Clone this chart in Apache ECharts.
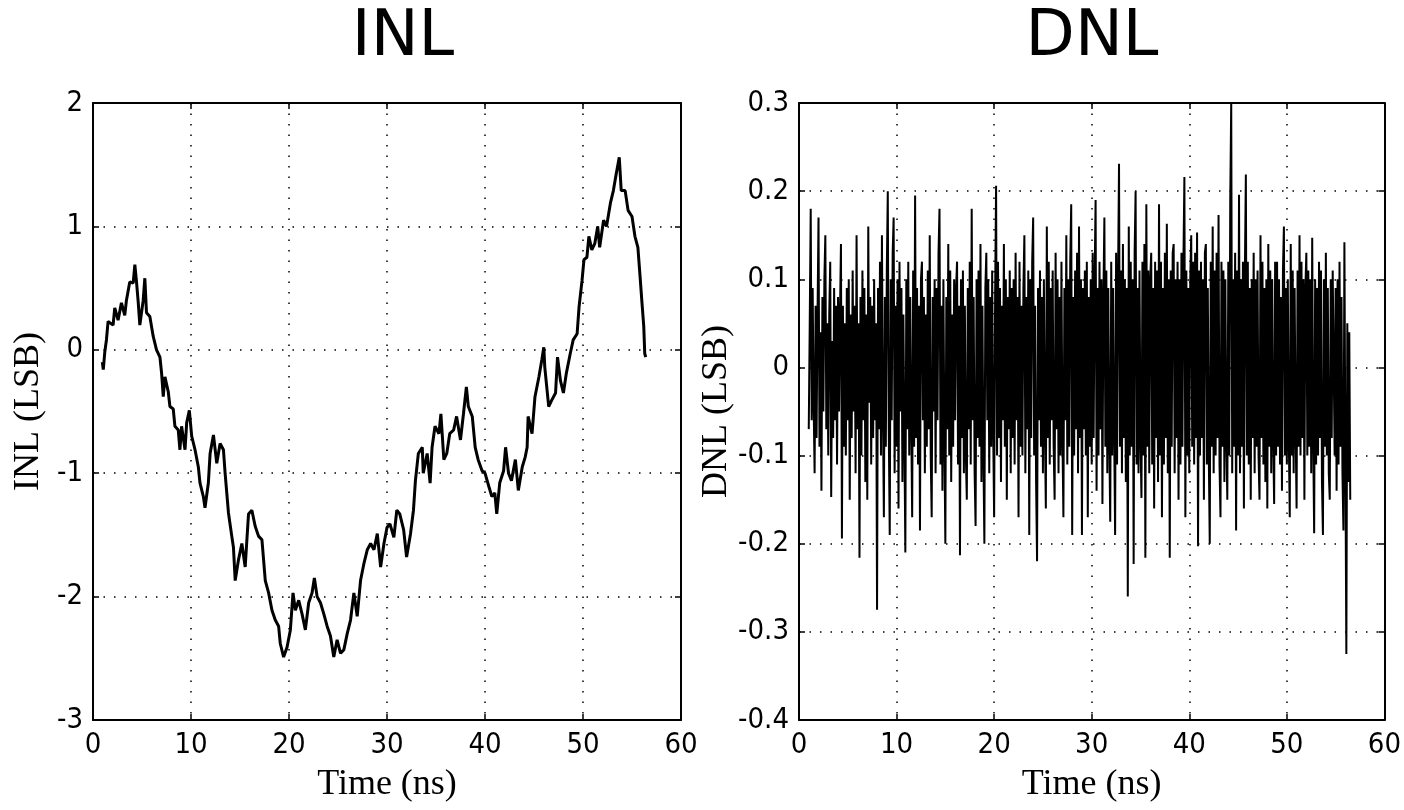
<!DOCTYPE html>
<html><head><meta charset="utf-8">
<script src="https://cdn.jsdelivr.net/npm/echarts@6/dist/echarts.min.js"></script>
<style>html,body{margin:0;padding:0;background:#fff}#c{width:1404px;height:810px}</style>
</head><body><div id="c"></div>
<script>
// ---- data ----
const X_TICKS = [0, 10, 20, 30, 40, 50, 60];
const INL_TICKS = [-3, -2, -1, 0, 1, 2];
const DNL_TICKS = [-0.4, -0.3, -0.2, -0.1, 0, 0.1, 0.2, 0.3];

const INL_X = [0.95,1.05,1.2,1.37,1.54,2.05,2.22,2.56,2.90,3.24,3.41,3.75,4.10,4.27,4.44,4.61,4.78,5.12,5.29,5.46,5.80,6.14,6.48,6.83,7.0,7.17,7.34,7.68,7.85,8.19,8.36,8.70,8.87,9.04,9.39,9.56,9.83,10.07,10.41,10.75,10.92,11.26,11.43,11.77,11.95,12.29,12.63,12.97,13.31,13.48,13.82,14.16,14.33,14.51,14.85,15.19,15.53,15.87,16.21,16.55,16.89,17.24,17.58,17.92,18.26,18.60,18.94,19.11,19.45,19.80,20.14,20.41,20.65,20.99,21.33,21.67,22.01,22.35,22.59,22.87,23.21,23.55,23.89,24.23,24.57,24.91,25.26,25.60,25.94,26.28,26.62,26.96,27.30,27.65,27.99,28.33,28.67,29.01,29.35,29.69,30.0,30.3,30.7,31.0,31.3,31.7,32.0,32.4,32.7,32.9,33.2,33.6,33.7,34.1,34.4,34.6,34.9,35.3,35.5,35.8,36.1,36.4,36.8,37.1,37.5,37.8,38.1,38.3,38.7,39.0,39.3,39.7,40.0,40.4,40.7,41.0,41.2,41.5,41.9,42.1,42.4,42.7,43.1,43.4,43.8,44.1,44.3,44.4,44.8,45.1,45.5,45.8,46.0,46.1,46.5,46.8,47.2,47.4,47.7,48.0,48.3,48.7,49.0,49.4,49.6,49.9,50.1,50.4,50.6,50.9,51.2,51.5,51.7,52.1,52.4,52.8,53.1,53.4,53.7,53.9,54.3,54.6,55.0,55.3,55.6,55.8,56.0,56.2,56.3,56.4];
const INL_Y = [-0.10,-0.16,-0.02,0.08,0.23,0.20,0.34,0.24,0.38,0.28,0.40,0.55,0.54,0.69,0.55,0.39,0.20,0.40,0.58,0.30,0.27,0.11,0.0,-0.06,-0.19,-0.38,-0.22,-0.34,-0.46,-0.48,-0.62,-0.65,-0.81,-0.62,-0.81,-0.59,-0.49,-0.70,-0.81,-0.95,-1.08,-1.19,-1.28,-1.08,-0.84,-0.69,-0.92,-0.76,-0.81,-1.0,-1.32,-1.51,-1.60,-1.87,-1.70,-1.57,-1.76,-1.33,-1.30,-1.43,-1.51,-1.54,-1.87,-1.97,-2.11,-2.19,-2.24,-2.38,-2.49,-2.41,-2.27,-1.97,-2.11,-2.03,-2.14,-2.27,-2.05,-1.97,-1.85,-2.0,-2.05,-2.14,-2.24,-2.32,-2.49,-2.35,-2.46,-2.43,-2.30,-2.19,-1.97,-2.16,-1.87,-1.73,-1.62,-1.57,-1.62,-1.49,-1.76,-1.57,-1.44,-1.41,-1.52,-1.30,-1.33,-1.46,-1.68,-1.49,-1.30,-1.06,-0.84,-0.79,-1.0,-0.84,-1.08,-0.79,-0.62,-0.68,-0.52,-0.89,-0.84,-0.68,-0.65,-0.54,-0.73,-0.52,-0.30,-0.46,-0.54,-0.79,-0.89,-0.98,-1.0,-1.11,-1.19,-1.16,-1.33,-1.08,-0.98,-0.79,-1.0,-1.06,-0.89,-1.14,-0.95,-0.87,-0.79,-0.54,-0.68,-0.38,-0.22,-0.08,0.02,-0.14,-0.46,-0.41,-0.35,-0.06,-0.25,-0.35,-0.19,-0.03,0.08,0.13,0.35,0.56,0.73,0.75,0.92,0.81,0.86,1.0,0.83,1.05,1.0,1.19,1.29,1.43,1.56,1.29,1.29,1.13,1.08,0.92,0.83,0.62,0.40,0.19,-0.03,-0.06];

const DNL_START = 1.0;   // first sample time (ns)
const DNL_STEP = 0.1;    // sample spacing (ns)
const DNL_Y = [
-0.07,0.05,0.18,-0.06,0.09,-0.04,-0.12,0.07,-0.08,0.06,
0.17,-0.09,0.04,-0.14,0.08,-0.05,0.1,0.15,-0.07,0.05,
-0.1,0.06,0.12,-0.147,0.03,-0.08,0.09,-0.06,0.07,-0.11,
0.08,-0.05,0.06,0.14,-0.194,0.07,-0.09,0.05,-0.1,0.09,
-0.06,0.1,-0.15,0.06,-0.08,0.11,-0.05,0.07,-0.12,0.15,
-0.07,0.05,-0.216,0.08,-0.1,0.11,-0.06,0.09,-0.13,0.06,
-0.15,0.16,-0.04,0.08,-0.11,0.07,-0.08,0.1,-0.06,0.05,
-0.275,0.09,-0.07,0.12,-0.1,0.15,-0.05,-0.17,0.08,-0.09,
0.11,0.2,-0.07,-0.19,0.1,-0.06,0.13,0.17,-0.12,0.07,
-0.09,0.1,-0.16,0.12,-0.05,0.09,-0.13,0.06,-0.08,-0.21,
0.1,-0.07,0.12,-0.1,0.08,-0.06,-0.17,0.11,-0.09,0.195,
-0.08,0.09,-0.11,0.07,-0.185,0.1,0.12,-0.06,0.08,-0.12,
0.06,-0.09,0.11,-0.07,0.15,-0.1,-0.17,0.08,-0.05,0.1,
-0.12,0.09,-0.06,0.13,0.18,-0.11,0.07,-0.14,0.1,-0.08,
-0.2,0.08,-0.07,0.14,-0.1,0.11,-0.13,0.06,-0.09,0.1,
-0.06,0.09,0.12,-0.11,0.07,-0.213,0.1,-0.08,0.11,-0.12,
0.07,-0.1,-0.15,0.09,-0.07,0.12,-0.11,0.18,-0.06,0.08,
-0.12,-0.18,0.1,-0.08,0.11,-0.09,0.14,-0.13,0.07,-0.1,
-0.2,0.09,0.13,-0.06,0.1,-0.12,0.08,-0.09,0.11,-0.07,
-0.17,0.08,0.206,-0.1,0.12,-0.08,0.09,-0.13,0.07,-0.06,
0.14,-0.09,0.1,-0.15,0.08,-0.07,0.11,-0.12,0.09,-0.08,
0.1,-0.11,0.13,-0.06,0.08,-0.17,0.12,-0.09,0.07,-0.1,
0.09,0.15,-0.12,0.08,-0.07,0.11,-0.19,0.1,-0.08,0.12,
0.17,-0.1,0.07,-0.13,-0.22,0.09,-0.06,0.11,-0.09,0.08,
-0.12,0.1,-0.07,-0.16,0.16,-0.08,0.12,-0.11,0.09,-0.06,
0.11,-0.09,-0.15,0.13,-0.07,0.1,-0.12,0.08,-0.1,0.12,
-0.08,-0.17,0.09,-0.06,0.15,-0.11,0.1,-0.09,0.12,0.185,
-0.19,0.08,-0.1,0.11,-0.07,0.13,-0.12,0.16,-0.08,0.1,
-0.19,0.09,-0.07,0.11,-0.1,0.12,-0.17,0.08,-0.09,0.1,
-0.11,0.13,-0.08,0.1,0.19,-0.14,0.09,-0.1,0.12,-0.07,
0.1,-0.155,0.08,0.17,-0.09,0.11,-0.12,0.09,-0.08,-0.175,
0.12,-0.1,0.09,-0.07,-0.19,0.13,-0.11,0.1,0.231,-0.09,
0.11,-0.12,0.14,-0.08,0.1,-0.13,0.09,-0.26,0.16,-0.1,
0.12,-0.09,0.1,-0.223,0.13,0.2,-0.11,0.09,-0.12,0.11,
-0.08,-0.148,0.12,-0.1,0.14,-0.216,0.185,-0.09,0.11,-0.12,
0.1,0.13,-0.11,0.09,-0.16,0.12,-0.08,0.11,-0.13,0.185,
-0.1,0.12,-0.17,0.09,-0.11,0.13,-0.08,0.163,-0.12,0.1,
-0.216,0.11,-0.09,0.13,0.14,-0.12,0.1,-0.08,0.12,-0.15,
0.1,-0.11,0.13,-0.09,0.12,0.216,-0.17,0.11,-0.1,0.09,
-0.12,0.1,0.15,-0.09,0.12,-0.11,0.13,-0.08,0.153,-0.203,
0.11,-0.1,0.12,-0.08,0.1,-0.15,0.13,0.14,-0.11,0.09,
-0.1,-0.2,0.12,-0.09,0.16,-0.12,0.11,-0.1,0.13,-0.08,
0.173,-0.11,-0.17,0.12,-0.09,0.11,-0.13,0.1,-0.08,-0.15,
0.12,-0.1,0.19,0.3,-0.12,0.1,-0.09,0.13,-0.185,0.11,
-0.1,0.196,-0.12,0.1,-0.09,0.12,-0.16,0.11,0.219,-0.1,
0.12,-0.11,0.09,-0.15,0.1,-0.08,0.13,-0.12,0.1,-0.09,
0.11,-0.1,-0.15,0.15,-0.08,0.12,-0.11,0.09,-0.13,0.1,
-0.16,0.14,-0.09,0.11,-0.12,0.1,-0.08,-0.155,0.12,-0.1,
0.12,-0.09,0.1,-0.11,0.08,-0.14,0.11,0.16,-0.1,0.09,
-0.11,0.1,-0.08,-0.17,0.14,-0.1,0.11,-0.12,0.09,-0.07,
-0.16,0.11,-0.09,0.15,-0.1,0.12,-0.08,0.1,-0.15,0.09,
0.13,-0.1,0.11,-0.09,0.1,-0.12,0.147,-0.08,-0.188,0.1,
-0.11,0.09,-0.1,0.12,-0.08,0.11,-0.13,-0.19,0.1,-0.09,
0.13,-0.1,0.09,-0.12,-0.15,0.1,-0.08,0.11,0.11,-0.1,
0.09,-0.14,0.1,-0.11,0.12,-0.09,0.08,-0.12,-0.185,0.142,
-0.1,-0.325,0.05,-0.13,0.04,-0.15
];

// ---- chart ----
const tickFont = "'Liberation Sans Narrow','DejaVu Sans Condensed','Arial Narrow',sans-serif";
const serif = "'Liberation Serif','DejaVu Serif',serif";
const AX = {color:'#000', width:2};

function fmt(v){ return String(Math.round(v*10)/10); }

function mainX(gi){
  return {gridIndex:gi,type:'value',min:X_TICKS[0],max:X_TICKS[X_TICKS.length-1],interval:X_TICKS[1]-X_TICKS[0],
    position:'bottom',
    axisLine:{show:true,onZero:false,lineStyle:AX},
    axisTick:{show:true,inside:true,length:6,lineStyle:{color:'#000',width:1.5}},
    axisLabel:{color:'#000',fontSize:29,fontFamily:tickFont,margin:11,formatter:fmt},
    splitLine:{show:true,lineStyle:{color:'#000',width:1.5,type:[1.5,9]}},
    name:'Time (ns)',nameLocation:'middle',nameGap:47,
    nameTextStyle:{color:'#000',fontSize:36,fontFamily:serif}};
}
function topX(gi){
  return {gridIndex:gi,type:'value',min:X_TICKS[0],max:X_TICKS[X_TICKS.length-1],interval:X_TICKS[1]-X_TICKS[0],
    position:'top',
    axisLine:{show:true,onZero:false,lineStyle:AX},
    axisTick:{show:true,inside:true,length:6,lineStyle:{color:'#000',width:1.5}},
    axisLabel:{show:false},splitLine:{show:false}};
}
function mainY(gi,ticks,name,gap){
  return {gridIndex:gi,type:'value',min:ticks[0],max:ticks[ticks.length-1],interval:Math.round((ticks[1]-ticks[0])*100)/100,
    position:'left',
    axisLine:{show:true,onZero:false,lineStyle:AX},
    axisTick:{show:true,inside:true,length:6,lineStyle:{color:'#000',width:1.5}},
    axisLabel:{color:'#000',fontSize:29,fontFamily:tickFont,margin:10,formatter:fmt},
    splitLine:{show:true,lineStyle:{color:'#000',width:1.5,type:[1.5,9]}},
    name:name,nameLocation:'middle',nameGap:gap,
    nameTextStyle:{color:'#000',fontSize:36,fontFamily:serif}};
}
function rightY(gi,ticks){
  return {gridIndex:gi,type:'value',min:ticks[0],max:ticks[ticks.length-1],interval:Math.round((ticks[1]-ticks[0])*100)/100,
    position:'right',
    axisLine:{show:true,onZero:false,lineStyle:AX},
    axisTick:{show:true,inside:true,length:6,lineStyle:{color:'#000',width:1.5}},
    axisLabel:{show:false},splitLine:{show:false}};
}

const chart = echarts.init(document.getElementById('c'), null, {renderer:'canvas'});
chart.setOption({
  animation:false,
  backgroundColor:'#fff',
  graphic:[
    {type:'text',x:403,y:38,style:{text:'INL',fontSize:64,fontFamily:"'DejaVu Sans'",fill:'#000',align:'center',verticalAlign:'middle'}},
    {type:'text',x:1092,y:38,style:{text:'DNL',fontSize:64,fontFamily:"'DejaVu Sans'",fill:'#000',align:'center',verticalAlign:'middle'}}
  ],
  grid:[
    {left:93,top:103,width:588,height:617},
    {left:799,top:103,width:589,height:617}
  ],
  xAxis:[mainX(0),topX(0),mainX(1),topX(1)],
  yAxis:[mainY(0,INL_TICKS,'INL (LSB)',46),rightY(0,INL_TICKS),mainY(1,DNL_TICKS,'DNL (LSB)',64),rightY(1,DNL_TICKS)],
  series:[
    {type:'line',xAxisIndex:0,yAxisIndex:0,showSymbol:false,symbol:'none',
     lineStyle:{color:'#000',width:3},
     data:INL_X.map((x,i)=>[x,INL_Y[i]])},
    {type:'line',xAxisIndex:2,yAxisIndex:2,showSymbol:false,symbol:'none',sampling:'none',
     lineStyle:{color:'#000',width:2},
     data:DNL_Y.map((v,i)=>[DNL_START+i*DNL_STEP,v])}
  ]
});
</script>
</body></html>
